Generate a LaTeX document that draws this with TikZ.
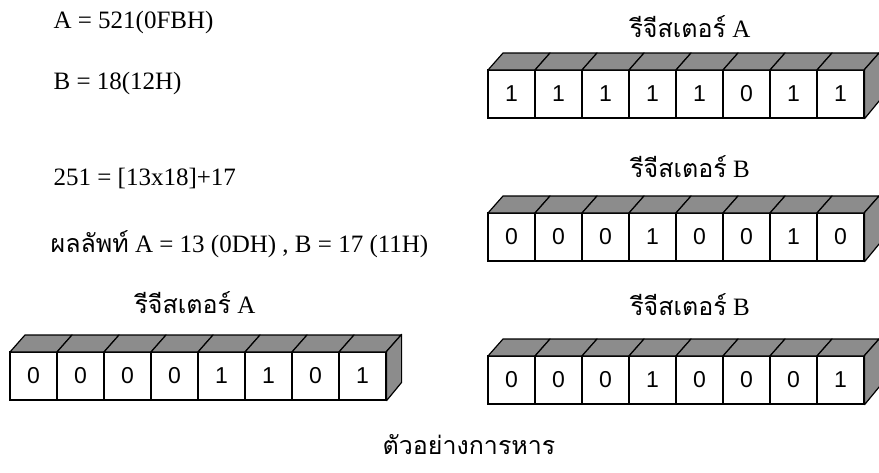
\documentclass[tikz,border=0pt]{standalone}
\usepackage{fontspec}
\setmainfont{Liberation Serif}
\newfontfamily\thaifont[Script=Thai]{Loma}
\newfontfamily\bitfont{Liberation Sans}
\newcommand{\regrow}[4]{%
  \foreach \b [count=\i] in {#4} {\node[bit] (#1\i) at ({#2+47*\i-23.5},{#3+24}) {\b};}
  \foreach \i in {1,...,8} {\filldraw[face] ({#2+47*\i-47},#3) -- ++(15,-17) -- ++(47,0) -- ++(-15,17) -- cycle;}
  \filldraw[face] (#18.north east) -- ++(15,-17) -- ++(0,48) -- (#18.south east) -- cycle;}
\begin{document}
\begin{tikzpicture}[x=1pt,y=-1pt,line width=1.2pt,
  bit/.style={draw,minimum width=47pt,minimum height=48pt,inner sep=0pt,font=\bitfont\fontsize{23}{23}\selectfont},
  face/.style={fill=black!45,line join=round},
  lbl/.style={anchor=west,inner sep=0pt,font=\fontsize{25}{28}\selectfont},
  reglbl/.style={inner sep=0pt,font=\fontsize{25}{28}\selectfont}]
\useasboundingbox (0,0) rectangle (879,472);
\node[lbl] (aval) at (53,22) {A = 521(0FBH)};
\node[lbl] (bval) at (53,83) {B = 18(12H)};
\node[lbl] (divide) at (53,178) {251 = [13x18]+17};
\node[lbl] (result) at (50,244) {{\thaifont ผลลัพท์} A = 13 (0DH) , B = 17 (11H)};
\node[reglbl] (titleA) at (690,27) {{\thaifont รีจีสเตอร์} A};
\node[reglbl] (titleB) at (690,167) {{\thaifont รีจีสเตอร์} B};
\node[reglbl] (titleA2) at (195,303) {{\thaifont รีจีสเตอร์} A};
\node[reglbl] (titleB2) at (690,305) {{\thaifont รีจีสเตอร์} B};
\regrow{ra}{488}{70}{1,1,1,1,1,0,1,1}
\regrow{rb}{488}{213}{0,0,0,1,0,0,1,0}
\regrow{qa}{10}{352}{0,0,0,0,1,1,0,1}
\regrow{qb}{488}{356}{0,0,0,1,0,0,0,1}
\node[reglbl] (caption) at (469,445) {\thaifont ตัวอย่างการหาร};
\end{tikzpicture}
\end{document}
